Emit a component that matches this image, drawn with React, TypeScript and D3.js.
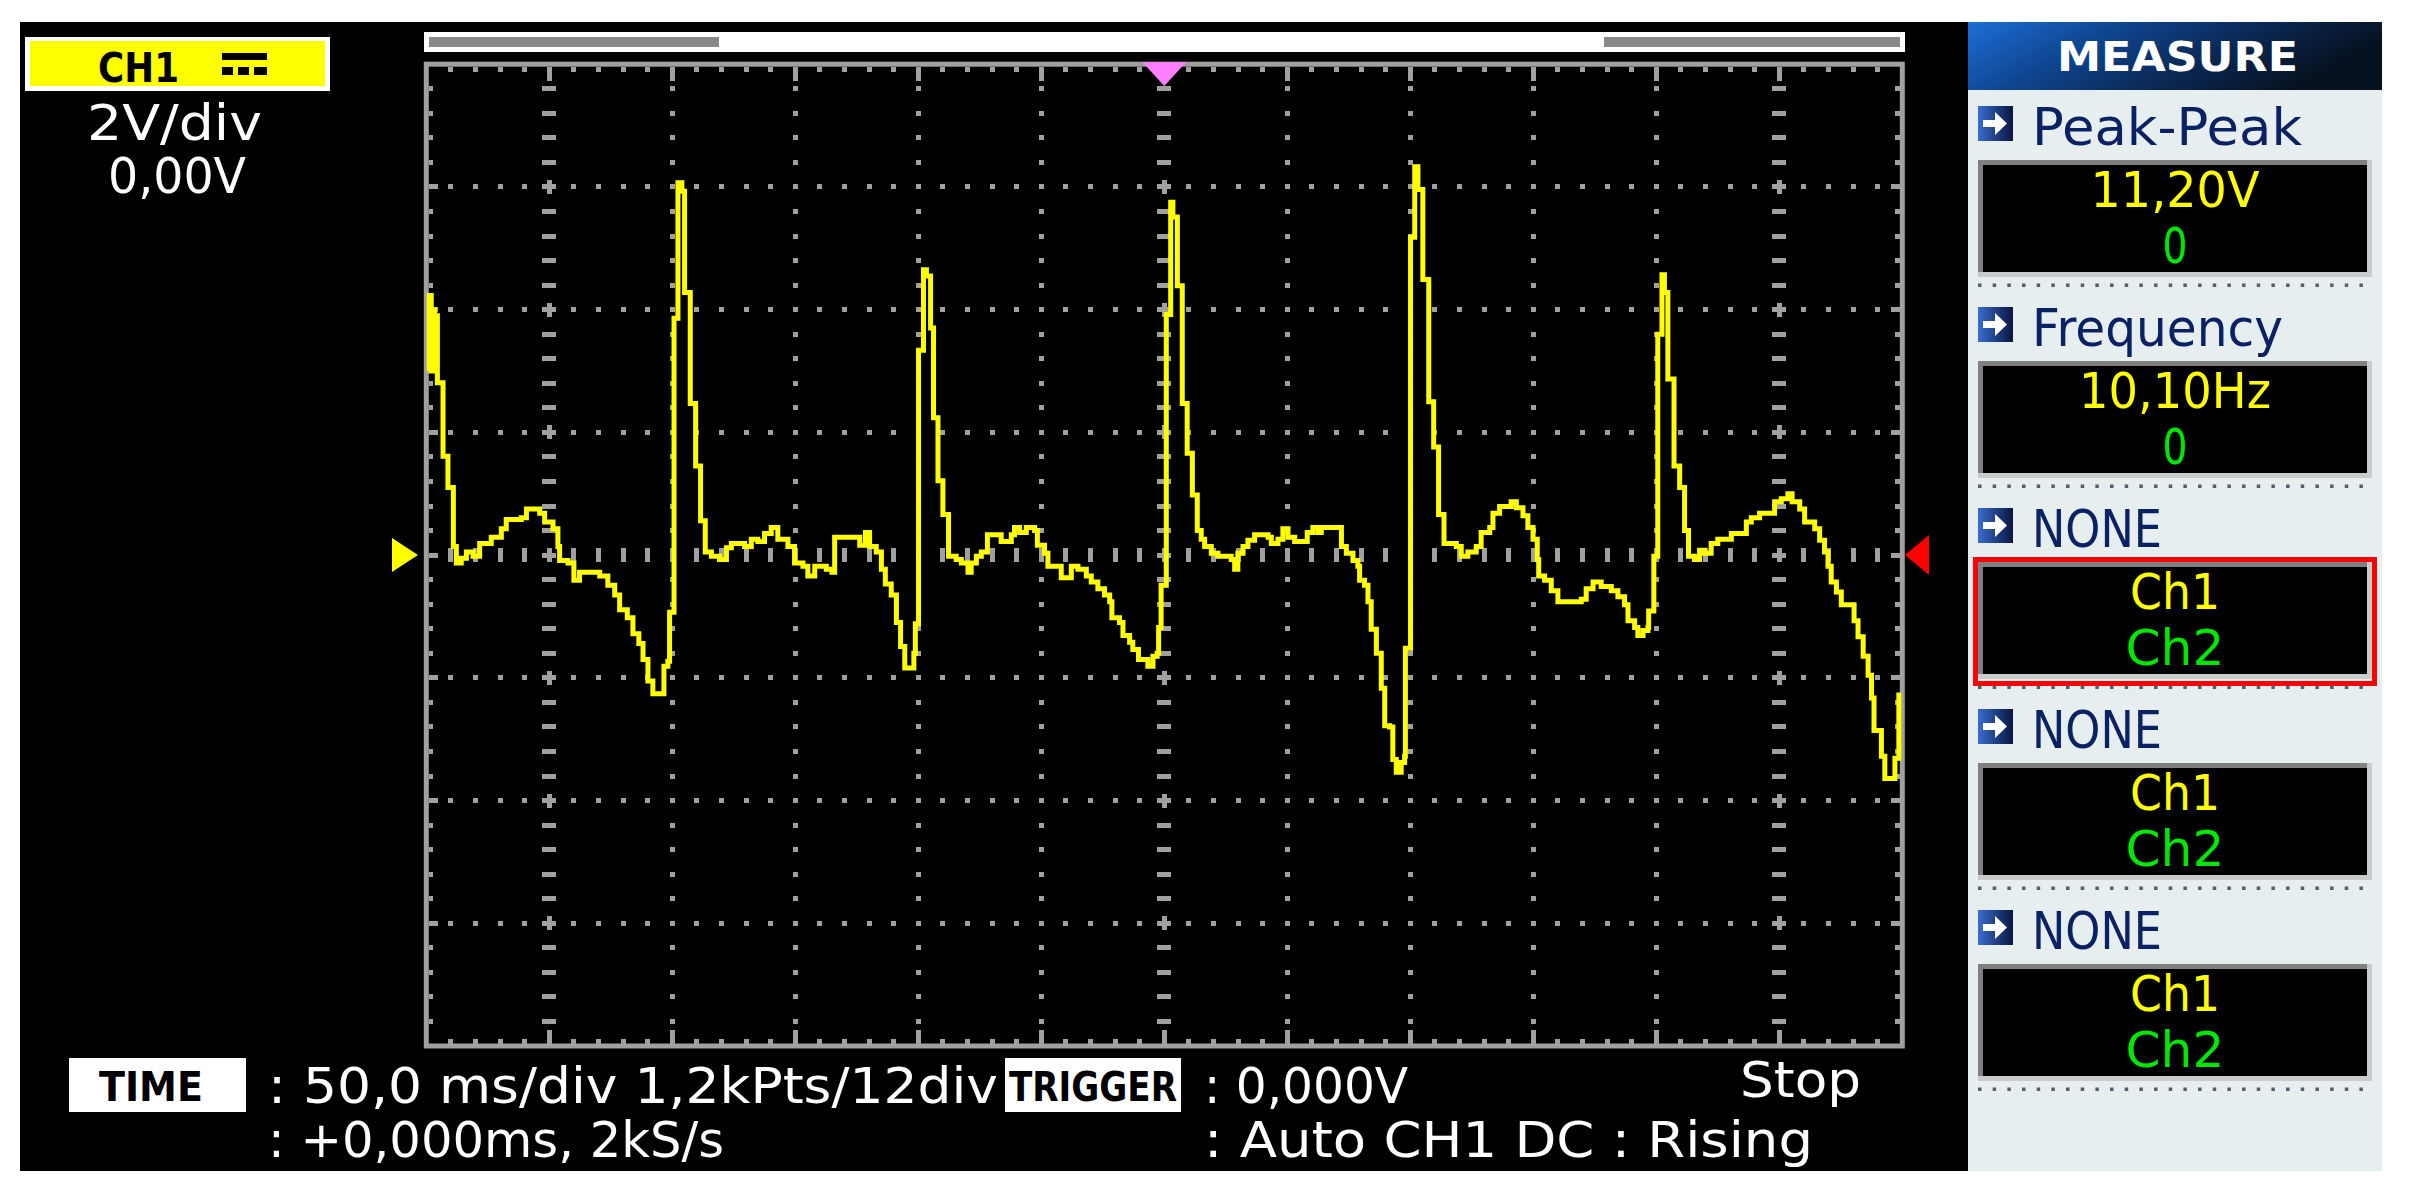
// Scope screenshot: CH1 capture with the measure side panel
import React from 'react';
import * as d3 from 'd3';

// scope settings
const msPerDiv = 50;
const voltsPerDiv = 2;
const timeDivs = 12;
const voltDivs = 8;

// CH1 samples [ms, V], one array per third of the sweep
const sweepA: [number, number][] = [
  [0.8, 3.0], [1.2, 4.23], [2.0, 3.0], [2.6, 4.0], [3.4, 3.1], [3.9, 3.9], [4.5, 2.81],
  [6.8, 1.61], [8.8, 1.1], [11.0, 0.14], [12.2, -0.13], [14.2, -0.05], [16.3, 0.05],
  [19.0, -0.02], [21.7, 0.19], [26.4, 0.29], [30.5, 0.43], [32.5, 0.58], [38.6, 0.61],
  [40.7, 0.75], [46.1, 0.68], [48.1, 0.54], [51.5, 0.43], [53.5, 0.14], [54.2, -0.09],
  [57.6, -0.13], [60.0, -0.41], [62.3, -0.28], [70.5, -0.34], [73.8, -0.49], [76.6, -0.65],
  [78.6, -0.89], [81.7, -1.02], [84.0, -1.28], [86.4, -1.44], [88.1, -1.7], [90.1, -2.05],
  [92.1, -2.26], [96.6, -1.81], [98.2, -1.73], [98.9, -0.93], [100.7, 3.86], [102.3, 6.07],
  [103.9, 5.93], [105.0, 4.28], [107.3, 2.47], [109.5, 1.45], [111.5, 0.56], [113.4, 0.05],
  [115.9, -0.02], [119.2, -0.07], [122.0, 0.12], [124.0, 0.19], [129.4, 0.14], [132.1, 0.26],
  [134.8, 0.22], [137.5, 0.35], [140.2, 0.45], [142.9, 0.26], [147.0, 0.14], [149.7, -0.13],
  [153.1, -0.18], [155.1, -0.34], [157.9, -0.18], [162.6, -0.23], [164.9, -0.28], [166.0, 0.29],
  [176.2, 0.16], [178.5, 0.37], [180.2, 0.14], [182.9, 0.05], [185.0, -0.23], [186.6, -0.47],
  [189.0, -0.65], [191.1, -1.1], [192.8, -1.49], [194.5, -1.84], [198.2, -1.6], [198.8, -1.12],
];

const sweepB: [number, number][] = [
  [200.1, 3.34], [202.1, 4.65], [203.3, 4.55], [205.0, 3.7], [206.2, 2.24], [208.0, 1.21],
  [210.0, 0.66], [212.3, -0.02], [215.4, -0.07], [217.5, -0.13], [220.2, -0.28], [221.5, -0.13],
  [223.6, -0.02], [225.6, 0.05], [228.1, 0.33], [233.7, 0.22], [237.8, 0.33], [239.1, 0.45],
  [241.2, 0.37], [243.9, 0.45], [247.3, 0.4], [248.4, 0.16], [251.3, 0.03], [252.7, -0.18],
  [258.1, -0.37], [262.2, -0.18], [264.9, -0.23], [268.3, -0.34], [270.3, -0.44], [273.0, -0.55],
  [275.7, -0.65], [277.8, -0.76], [278.7, -1.02], [281.8, -1.1], [283.2, -1.31], [285.9, -1.42],
  [287.2, -1.54], [289.5, -1.7], [293.3, -1.81], [295.4, -1.65], [297.1, -1.6], [297.7, -1.18],
  [298.7, -0.49], [300.8, 3.92], [302.6, 5.75], [303.5, 5.51], [305.3, 4.39], [307.3, 2.47],
  [309.3, 1.66], [311.4, 0.98], [313.4, 0.4], [315.0, 0.26], [316.4, 0.14], [319.1, 0.03],
  [321.8, -0.02], [327.2, -0.07], [328.6, -0.23], [329.9, 0.03], [332.0, 0.14], [334.0, 0.24],
  [336.7, 0.33], [342.2, 0.29], [343.5, 0.19], [346.2, 0.26], [348.2, 0.43], [350.3, 0.29],
  [353.0, 0.22], [358.1, 0.37], [360.4, 0.45], [362.5, 0.37], [363.8, 0.45], [372.0, 0.14],
  [374.0, 0.03], [376.7, -0.09], [378.7, -0.18], [379.4, -0.41], [381.4, -0.49], [382.8, -0.76],
  [384.1, -1.21], [386.2, -1.6], [388.2, -2.17], [389.6, -2.78], [391.6, -2.8], [392.9, -3.33],
  [394.3, -3.54], [396.3, -3.38], [397.7, -3.28], [398.0, -1.52],
];

const sweepC: [number, number][] = [
  [400.1, 5.18], [401.8, 6.33], [403.1, 5.96], [405.1, 4.49], [407.5, 2.5], [409.5, 1.76],
  [411.5, 0.66], [413.7, 0.19], [418.7, 0.14], [420.7, -0.02], [423.4, 0.05], [426.8, 0.14],
  [428.8, 0.37], [432.3, 0.45], [433.6, 0.68], [436.3, 0.79], [441.0, 0.87], [443.1, 0.77],
  [445.8, 0.64], [447.8, 0.45], [449.9, 0.26], [451.6, -0.07], [452.2, -0.34], [454.6, -0.41],
  [457.3, -0.58], [460.0, -0.76], [469.5, -0.72], [471.5, -0.55], [474.3, -0.44], [477.6, -0.51],
  [481.7, -0.58], [484.4, -0.68], [487.1, -0.81], [488.5, -1.07], [491.2, -1.18], [492.5, -1.31],
  [494.6, -1.23], [496.6, -1.18], [496.9, -0.91], [499.0, -0.02], [500.6, 3.6], [502.3, 4.57],
  [503.3, 4.28], [504.7, 2.87], [507.2, 1.45], [509.5, 1.1], [511.5, 0.4], [513.1, -0.02],
  [515.5, -0.07], [517.6, 0.08], [519.6, 0.03], [522.3, 0.19], [525.0, 0.26], [530.5, 0.35],
  [536.6, 0.54], [538.6, 0.61], [542.0, 0.68], [548.1, 0.87], [550.8, 0.92], [553.5, 1.0],
  [555.2, 0.87], [558.3, 0.75], [560.3, 0.54], [564.4, 0.43], [566.4, 0.24], [568.4, 0.05],
  [569.8, -0.18], [571.1, -0.44], [573.2, -0.6], [575.2, -0.81], [580.4, -1.07], [582.0, -1.33],
  [584.1, -1.65], [586.1, -1.96], [587.5, -2.33], [588.5, -2.86], [591.5, -3.28], [592.9, -3.64],
  [597.0, -3.31], [598.6, -2.28], [599.6, -2.28],
];

// measure panel
const measureLabels = ['Peak-Peak', 'Frequency', 'NONE', 'NONE', 'NONE'];
const measureMain = ['11,20V', '10,10Hz', 'Ch1', 'Ch1', 'Ch1'];
const measureSub = ['0', '0', 'Ch2', 'Ch2', 'Ch2'];
const selectedMeasure = 2;

// status texts
const channelName = 'CH1';
const voltScaleText = '2V/div';
const offsetText = '0,00V';
const timeLine1 = ': 50,0 ms/div 1,2kPts/12div';
const timeLine2 = ': +0,000ms, 2kS/s';
const triggerLine1 = ': 0,000V';
const triggerLine2 = ': Auto CH1 DC : Rising';
const runState = 'Stop';

const GRID = '#a0a0a0';
const FONT = '"DejaVu Sans", "Liberation Sans", sans-serif';
const NARROW = '"Liberation Sans Narrow", "DejaVu Sans Condensed", "DejaVu Sans", sans-serif';
const NAVY = '#0a2263';

// widths the pixel font takes on the screen
const textWidth: Record<string, number> = {
  'Peak-Peak': 270, Frequency: 251, NONE: 130,
  '11,20V': 169, '10,10Hz': 192, '0': 25, Ch1: 90, Ch2: 99,
};

const App: React.FC = () => {
  const tMax = msPerDiv * timeDivs;
  const vMax = (voltsPerDiv * voltDivs) / 2;
  const xs = d3.scaleLinear().domain([0, tMax]).range([426.3, 1902.3]);
  const ys = d3.scaleLinear().domain([-vMax, vMax]).range([1046, 64.2]);

  const line = d3.line<[number, number]>()
    .x(d => xs(d[0]))
    .y(d => ys(d[1]))
    .curve(d3.curveStepAfter);
  const samples = [...sweepA, ...sweepB, ...sweepC];

  // graticule marks
  const marks: { x: number; y: number; w: number; h: number }[] = [];
  const top = ys(vMax) + 2.5, bottom = ys(-vMax) - 2.5;
  const left = xs(0) + 2.5, right = xs(tMax) - 2.5;
  const minorT = msPerDiv / 5, minorV = voltsPerDiv / 5;

  for (let m = 1; m < timeDivs * 5; m++) {
    const x = xs(m * minorT);
    const len = m % 5 === 0 ? 14 : 5;
    marks.push({ x: x - 2.5, y: top, w: 5, h: len });
    marks.push({ x: x - 2.5, y: bottom - len, w: 5, h: len });
  }
  for (let n = 1; n < voltDivs * 5; n++) {
    const y = ys(-vMax + n * minorV);
    const len = n % 5 === 0 ? 9 : 4.5;
    marks.push({ x: left, y: y - 2.5, w: len, h: 5 });
    marks.push({ x: right - len, y: y - 2.5, w: len, h: 5 });
  }
  const special = [1, 6, 11];
  for (let i = 1; i < timeDivs; i++) {
    const x = xs(i * msPerDiv);
    for (let n = 1; n < voltDivs * 5; n++) {
      const y = ys(-vMax + n * minorV);
      if (special.includes(i)) {
        marks.push({ x: x - 7, y: y - 2.5, w: 14, h: 5 });
        if (n % 5 === 0) marks.push({ x: x - 2.5, y: y - 7, w: 5, h: 14 });
      } else if (n === voltDivs * 5 / 2) {
        marks.push({ x: x - 2.5, y: y - 7, w: 5, h: 14 });
      } else {
        marks.push({ x: x - 2.5, y: y - 2.5, w: 5, h: 5 });
      }
    }
  }
  for (let j = 1; j < voltDivs; j++) {
    const y = ys(-vMax + j * voltsPerDiv);
    for (let m = 1; m < timeDivs * 5; m++) {
      if (m % 5 === 0) continue;
      const x = xs(m * minorT);
      if (j === voltDivs / 2) marks.push({ x: x - 2.5, y: y - 7, w: 5, h: 14 });
      else marks.push({ x: x - 2.5, y: y - 2.5, w: 5, h: 5 });
    }
  }

  const zeroY = ys(0);
  const trigX = xs(tMax / 2);
  const boxCx = 2175;

  return (
    <svg width={2409} height={1199} style={{ position: 'absolute', left: 0, top: 0, background: '#fff' }}>
      <defs>
        <linearGradient id="headGrad" x1="0" y1="0" x2="1" y2="0.3">
          <stop offset="0%" stopColor="#1c6fd6" />
          <stop offset="35%" stopColor="#0f4590" />
          <stop offset="70%" stopColor="#0a2650" />
          <stop offset="100%" stopColor="#06111f" />
        </linearGradient>
        <linearGradient id="iconGrad" x1="0" y1="0" x2="1" y2="0">
          <stop offset="0%" stopColor="#3a6cd0" />
          <stop offset="100%" stopColor="#081640" />
        </linearGradient>
      </defs>

      {/* screen */}
      <rect x={20} y={22} width={1948} height={1149} fill="#000" />

      {/* memory bar */}
      <rect x={424} y={32} width={1481} height={20} fill="#fff" />
      <rect x={429} y={37} width={290} height={10} fill="#888" />
      <rect x={1604} y={37} width={296} height={10} fill="#888" />

      {/* channel badge */}
      <rect x={25} y={37} width={305} height={54} fill="#fff" />
      <rect x={30} y={41} width={295} height={45} fill="#ffff00" />
      <text x={98} y={82} fontFamily={FONT} fontWeight="bold" fontSize={41}
        textLength={81} lengthAdjust="spacingAndGlyphs" fill="#000">{channelName}</text>
      <rect x={222} y={53} width={45} height={7} fill="#000" />
      {[222, 238, 254].map(x => (
        <rect key={x} x={x} y={67} width={x === 254 ? 13 : 11} height={8} fill="#000" />
      ))}
      <text x={87} y={140} fontFamily={NARROW} fontSize={49}
        textLength={175} lengthAdjust="spacingAndGlyphs" fill="#fff">{voltScaleText}</text>
      <text x={108} y={193} fontFamily={NARROW} fontSize={49}
        textLength={138} lengthAdjust="spacingAndGlyphs" fill="#fff">{offsetText}</text>

      {/* graticule */}
      <g fill={GRID} shapeRendering="crispEdges">
        {marks.map((r, k) => <rect key={k} x={r.x} y={r.y} width={r.w} height={r.h} />)}
      </g>
      <rect x={xs(0)} y={ys(vMax)} width={xs(tMax) - xs(0)} height={ys(-vMax) - ys(vMax)}
        fill="none" stroke={GRID} strokeWidth={5} />

      {/* trace */}
      <path d={line(samples) ?? ''} fill="none" stroke="#ffff00" strokeWidth={5}
        strokeLinejoin="miter" />

      {/* level / trigger markers */}
      <path d={`M392,${zeroY - 17} L418,${zeroY} L392,${zeroY + 17} Z`} fill="#ffff00" />
      <path d={`M1929,${zeroY - 20} L1905,${zeroY} L1929,${zeroY + 20} Z`} fill="#ff0000" />
      <path d={`M${trigX - 22},62 L${trigX + 22},62 L${trigX},86 Z`} fill="#ff80ff" />

      {/* time / trigger status */}
      <rect x={69} y={1058} width={177} height={54} fill="#fff" />
      <text x={99} y={1101} fontFamily={NARROW} fontWeight="bold" fontSize={40}
        textLength={104} lengthAdjust="spacingAndGlyphs" fill="#000">TIME</text>
      <text x={268} y={1103} fontFamily={NARROW} fontSize={50}
        textLength={730} lengthAdjust="spacingAndGlyphs" fill="#fff">{timeLine1}</text>
      <text x={268} y={1157} fontFamily={NARROW} fontSize={50}
        textLength={456} lengthAdjust="spacingAndGlyphs" fill="#fff">{timeLine2}</text>
      <rect x={1005} y={1058} width={176} height={54} fill="#fff" />
      <text x={1009} y={1101} fontFamily={NARROW} fontWeight="bold" fontSize={40}
        textLength={168} lengthAdjust="spacingAndGlyphs" fill="#000">TRIGGER</text>
      <text x={1204} y={1103} fontFamily={NARROW} fontSize={50}
        textLength={204} lengthAdjust="spacingAndGlyphs" fill="#fff">{triggerLine1}</text>
      <text x={1740} y={1097} fontFamily={NARROW} fontSize={50}
        textLength={121} lengthAdjust="spacingAndGlyphs" fill="#fff">{runState}</text>
      <text x={1204} y={1157} fontFamily={NARROW} fontSize={50}
        textLength={609} lengthAdjust="spacingAndGlyphs" fill="#fff">{triggerLine2}</text>

      {/* measure panel */}
      <rect x={1968} y={22} width={414} height={1149} fill="#e6eeef" />
      <rect x={1968} y={22} width={414} height={68} fill="url(#headGrad)" />
      <text x={2057} y={71} fontFamily={FONT} fontWeight="bold" fontSize={40}
        textLength={241} lengthAdjust="spacingAndGlyphs" fill="#fff">MEASURE</text>

      {measureLabels.map((label, k) => {
        const b = 201 * k;
        return (
          <g key={k}>
            <rect x={1978} y={106 + b} width={35} height={35} fill="url(#iconGrad)" />
            <path d={`M1983,${120 + b} H1995 V${112 + b} L2007,${123.5 + b} L1995,${135 + b} V${127 + b} H1983 Z`}
              fill="#fff" />
            <text x={2032} y={145 + b} fontFamily={FONT} fontSize={52}
              textLength={textWidth[label]} lengthAdjust="spacingAndGlyphs" fill={NAVY}>{label}</text>

            <rect x={1978} y={160 + b} width={394} height={117} fill="#c8cccc" />
            <rect x={1978} y={160 + b} width={389} height={112} fill="#808080" />
            <rect x={1983} y={165 + b} width={384} height={107} fill="#000" />
            <text x={boxCx - textWidth[measureMain[k]] / 2} y={207 + b} fontFamily={FONT} fontSize={50}
              textLength={textWidth[measureMain[k]]} lengthAdjust="spacingAndGlyphs"
              fill="#ffff00">{measureMain[k]}</text>
            <text x={boxCx - textWidth[measureSub[k]] / 2} y={263 + b} fontFamily={FONT} fontSize={50}
              textLength={textWidth[measureSub[k]]} lengthAdjust="spacingAndGlyphs"
              fill="#00e600">{measureSub[k]}</text>
            {k === selectedMeasure && (
              <rect x={1975.5} y={157.5 + b} width={399} height={124} fill="none"
                stroke="#ff0000" strokeWidth={5} />
            )}

            {d3.range(27).map(i => (
              <rect key={i} x={1978 + i * 14.67} y={283.5 + b} width={3.5} height={3.5} fill="#4f6070" />
            ))}
          </g>
        );
      })}
    </svg>
  );
};

export default App;
